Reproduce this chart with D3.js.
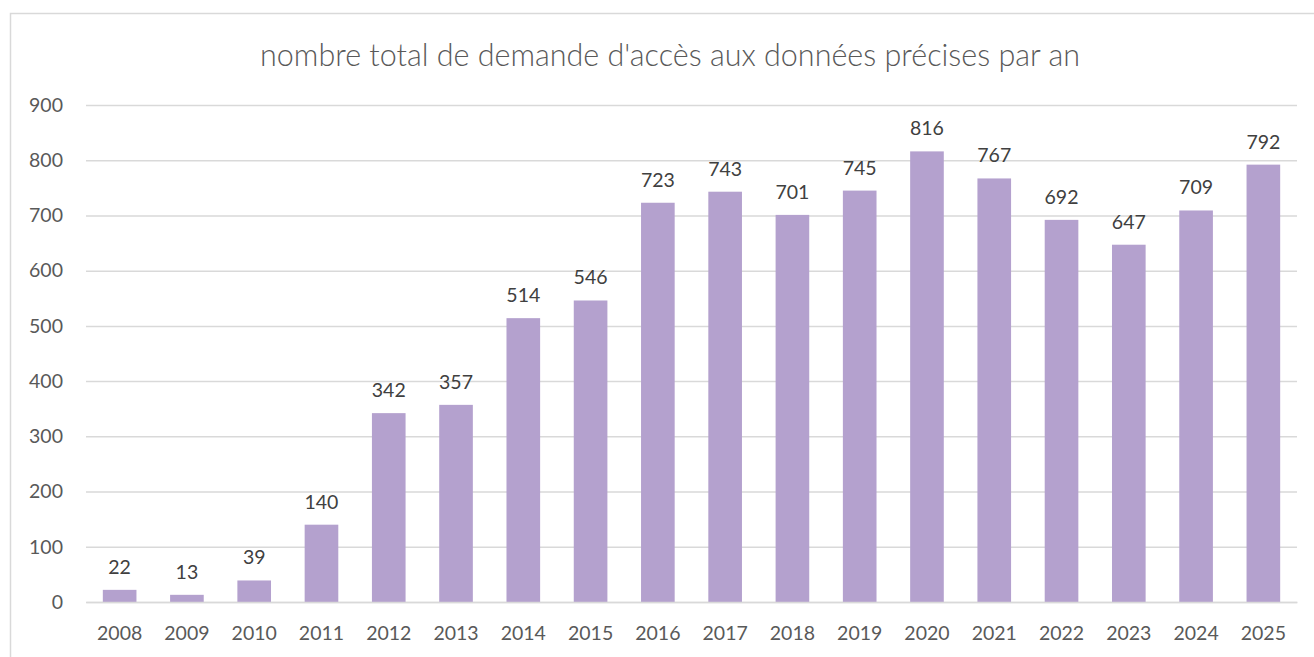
<!DOCTYPE html>
<html><head><meta charset="utf-8">
<script src="https://cdn.jsdelivr.net/npm/d3@7"></script>
<style>body{margin:0;background:#fff}svg{display:block}</style>
</head><body>
<script>
const years = ["2008","2009","2010","2011","2012","2013","2014","2015","2016","2017","2018","2019","2020","2021","2022","2023","2024","2025"];
const values = [22,13,39,140,342,357,514,546,723,743,701,745,816,767,692,647,709,792];
const yTicks = [0,100,200,300,400,500,600,700,800,900];
const title = "nombre total de demande d'accès aux données précises par an";

const W = 1314, H = 657;
const m = {left: 86, right: 17, top: 105, bottom: 55};
const font = "Lato, 'Open Sans', sans-serif";
const svg = d3.select("body").append("svg").attr("width", W).attr("height", H);

svg.append("rect").attr("x", 10.5).attr("y", 13.5).attr("width", W).attr("height", H)
  .attr("fill", "none").attr("stroke", "#d9d9d9").attr("stroke-width", 1.5);

const x = d3.scaleBand().domain(years).range([m.left, W - m.right]).paddingInner(0.5).paddingOuter(0.25);
const y = d3.scaleLinear().domain([0, 900]).range([H - m.bottom, m.top]);

const gy = svg.append("g").attr("transform", `translate(${m.left},0)`)
  .call(d3.axisLeft(y).tickValues(yTicks).tickSize(-(W - m.right - m.left)).tickPadding(23));
gy.select(".domain").remove();
gy.selectAll("line").attr("stroke", "#d9d9d9").attr("stroke-width", 1.5);
gy.selectAll("text").attr("fill", "#595959").style("font-size", "19.5px").style("font-family", font);

svg.append("g").selectAll("rect").data(values).join("rect")
  .attr("x", (d, i) => x(years[i])).attr("width", x.bandwidth())
  .attr("y", d => y(d)).attr("height", d => y(0) - y(d)).attr("fill", "#b4a1ce");

const gx = svg.append("g").attr("transform", `translate(0,${y(0)})`)
  .call(d3.axisBottom(x).tickSize(0).tickPadding(24));
gx.select(".domain").attr("stroke", "#d9d9d9").attr("stroke-width", 1.5);
gx.selectAll("text").attr("fill", "#595959").style("font-size", "19.5px").style("font-family", font);

svg.append("g").selectAll("text").data(values).join("text")
  .attr("x", (d, i) => x(years[i]) + x.bandwidth() / 2).attr("y", d => y(d) - 16)
  .attr("text-anchor", "middle").attr("fill", "#404040")
  .style("font-size", "19.5px").style("font-family", font).text(d => d);

svg.append("text").attr("x", 670).attr("y", 66).attr("text-anchor", "middle")
  .attr("fill", "#595959").style("font-size", "30.5px").style("font-weight", 300).style("font-family", font).text(title);
</script>
</body></html>
